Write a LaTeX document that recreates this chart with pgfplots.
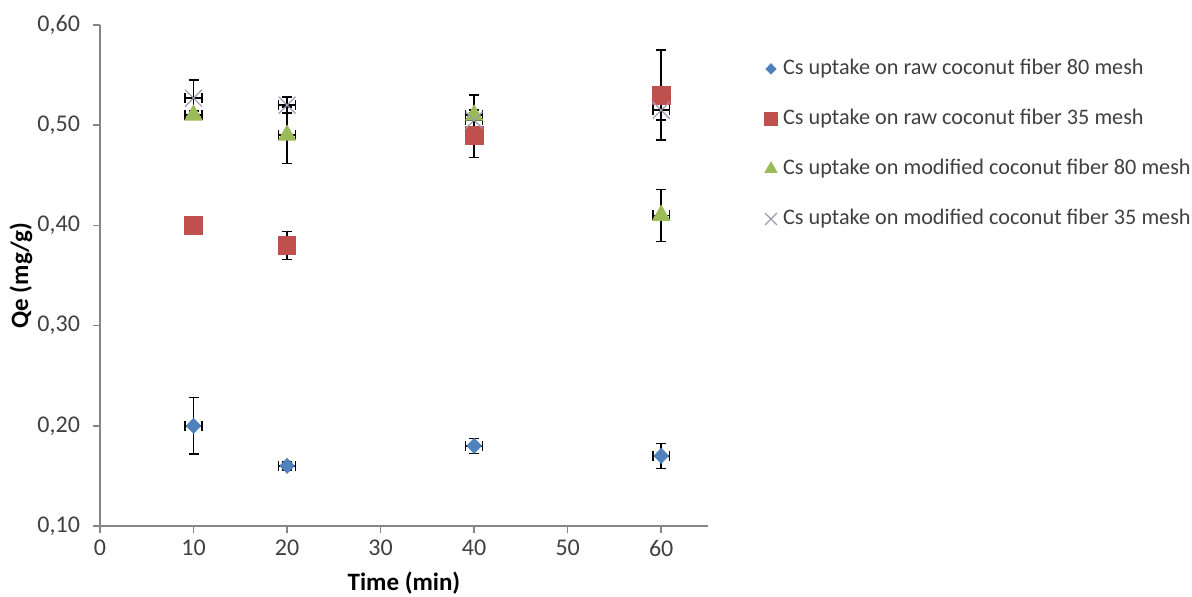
\documentclass[border=0pt]{standalone}
\usepackage{pgfplots}
\pgfplotsset{compat=1.18}
\usepackage{pgfplotstable}
\usepackage{fontspec}
\setmainfont{Carlito}
\definecolor{cblue}{HTML}{4F81BD}
\definecolor{cred}{HTML}{C0504D}
\definecolor{cgreen}{HTML}{9BBB59}
\definecolor{ccross}{HTML}{9A9AB0}
\definecolor{axgray}{HTML}{868686}
\definecolor{txt}{HTML}{404040}

\pgfplotstableread{
x y ex ey
10 0.200 0.9 0.028
20 0.160 0.9 0.004
40 0.180 0.9 0.0075
60 0.170 0.9 0.0125
}\rawEighty
\pgfplotstableread{
x y ex ey
10 0.400 0.9 0.003
20 0.380 0.9 0.014
40 0.490 0.9 0.022
60 0.530 0.9 0.045
}\rawThirtyFive
\pgfplotstableread{
x y ex ey
10 0.510 0.9 0.004
20 0.490 0.9 0.028
40 0.510 0.9 0.020
60 0.410 0.9 0.026
}\modEighty
\pgfplotstableread{
x y ex ey
10 0.527 0.9 0.018
20 0.520 0.9 0.008
40 0.505 0.9 0.010
60 0.515 0.9 0.010
}\modThirtyFive

\begin{document}
\begin{tikzpicture}
\useasboundingbox (0,0) rectangle (596bp,298.5bp);
\begin{axis}[
  at={(50bp,35.5bp)}, anchor=south west,
  scale only axis, width=304bp, height=250.5bp,
  xmin=0, xmax=65, ymin=0.1, ymax=0.6,
  axis lines=left,
  axis line style={draw=axgray, line width=0.75bp, -},
  xtick={0,10,20,30,40,50,60},
  ytick={0.1,0.2,0.3,0.4,0.5,0.6},
  tick style={draw=axgray, line width=0.75bp},
  major tick length=3.5bp, tick align=outside,
  ticklabel style={font=\fontsize{12bp}{14bp}\selectfont, text=txt},
  yticklabel style={xshift=-3bp, /pgf/number format/.cd, fixed, fixed zerofill, precision=2, use comma},
  /pgf/number format/assume math mode=true,
  xlabel={\textbf{Time (min)}},
  ylabel={\textbf{Qe (mg/g)}},
  every axis x label/.style={at={(rel axis cs:0.5,-0.1138)}, anchor=center,
    font=\fontsize{12.5bp}{14bp}\selectfont, text=black},
  every axis y label/.style={at={(rel axis cs:-0.13,0.5)}, anchor=center, rotate=90,
    font=\fontsize{12.5bp}{14bp}\selectfont, text=black},
  clip=false,
  legend style={draw=none, fill=none, at={(1.083,0.945)}, anchor=north west,
    font=\fontsize{11.1bp}{13bp}\selectfont, text=txt, column sep=1.5bp,
    row sep=13bp, nodes={inner ysep=1bp, inner xsep=1.5bp, text height=8bp, text depth=2bp}},
  legend cell align=left,
  legend image code/.code={\draw[#1, /tikz/every mark/.append style={scale=0.7}] plot coordinates {(0.12cm,0cm)};},
  error bars/error bar style={black, line width=0.75bp},
  error bars/error mark options={rotate=90, mark size=2.5bp, black, line width=0.75bp},
]
\addplot+[only marks, mark=diamond*, mark size=3.7bp, mark options={fill=cblue, draw=cblue, xscale=1.3},
  error bars/.cd, x dir=both, x explicit, y dir=both, y explicit]
  table[x=x, y=y, x error=ex, y error=ey] {\rawEighty};
\addlegendentry{Cs uptake on raw coconut fiber 80 mesh}
\addplot+[only marks, mark=square*, mark size=4.4bp, mark options={fill=cred, draw=cred, rounded corners=1bp},
  error bars/.cd, x dir=both, x explicit, y dir=both, y explicit]
  table[x=x, y=y, x error=ex, y error=ey] {\rawThirtyFive};
\addlegendentry{Cs uptake on raw coconut fiber 35 mesh}
\addplot+[only marks, mark=triangle*, mark size=5bp, mark options={fill=cgreen, draw=cgreen},
  error bars/.cd, x dir=both, x explicit, y dir=both, y explicit]
  table[x=x, y=y, x error=ex, y error=ey] {\modEighty};
\addlegendentry{Cs uptake on modified coconut fiber 80 mesh}
\addplot+[only marks, mark=x, mark size=6bp, mark options={draw=ccross, line width=0.6bp},
  error bars/.cd, x dir=both, x explicit, y dir=both, y explicit]
  table[x=x, y=y, x error=ex, y error=ey] {\modThirtyFive};
\addlegendentry{Cs uptake on modified coconut fiber 35 mesh}
\end{axis}
\end{tikzpicture}
\end{document}
